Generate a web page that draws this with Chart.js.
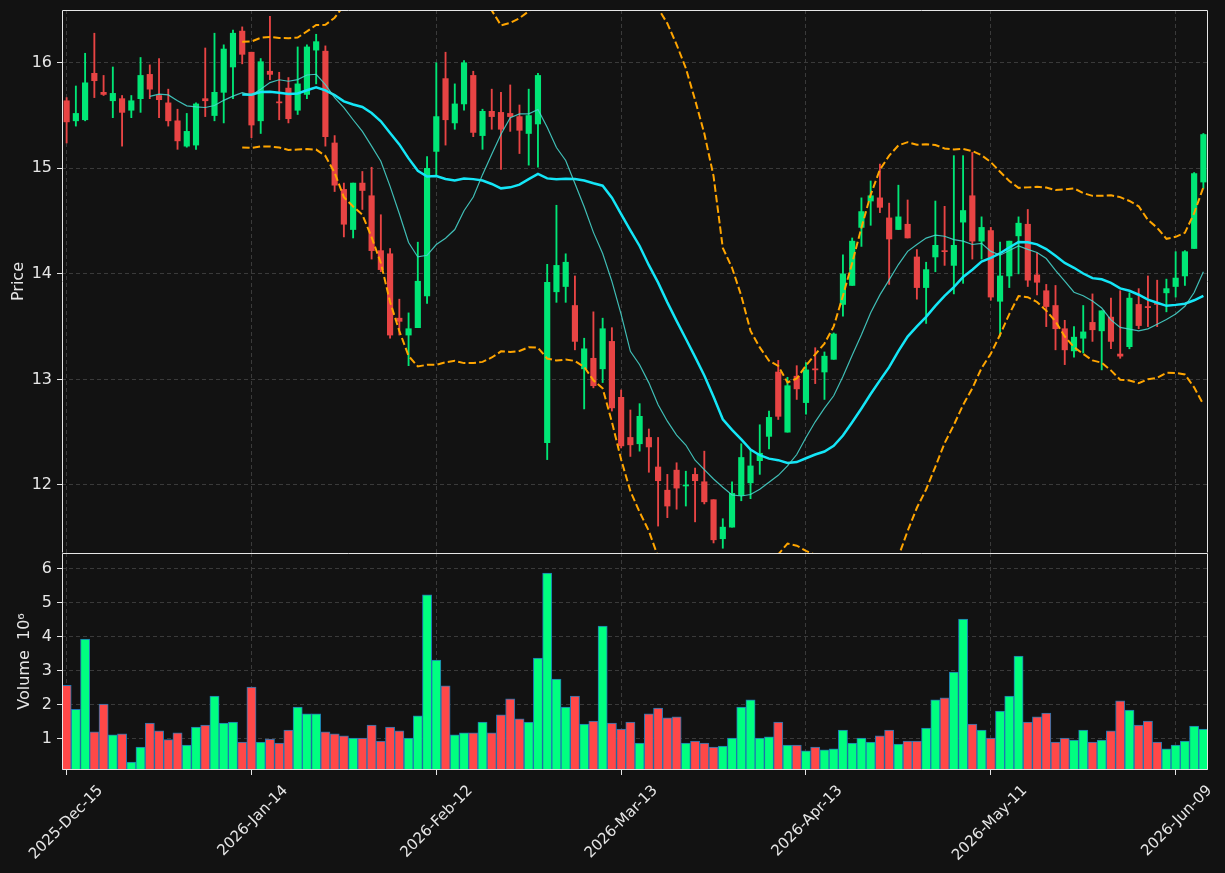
<!DOCTYPE html>
<html>
<head>
<meta charset="utf-8">
<script src="https://cdn.jsdelivr.net/npm/chart.js@4.4.1/dist/chart.umd.min.js"></script>
<style>
  html, body { margin: 0; padding: 0; background: #121212; }
  #wrap { position: relative; width: 1225px; height: 873px; overflow: hidden; background: #121212; }
  canvas { position: absolute; left: 0; }
  #priceChart { top: 0; }
  #volChart { top: 543px; }
</style>
</head>
<body>
<div id="wrap">
  <canvas id="priceChart" width="1225" height="553"></canvas>
  <canvas id="volChart" width="1225" height="330"></canvas>
</div>
<script>
// trading days (US calendar)
const dates = [
  '2025-Dec-15','2025-Dec-16','2025-Dec-17','2025-Dec-18','2025-Dec-19','2025-Dec-22','2025-Dec-23','2025-Dec-24','2025-Dec-26','2025-Dec-29','2025-Dec-30','2025-Dec-31',
  '2026-Jan-02','2026-Jan-05','2026-Jan-06','2026-Jan-07','2026-Jan-08','2026-Jan-09','2026-Jan-12','2026-Jan-13','2026-Jan-14','2026-Jan-15','2026-Jan-16','2026-Jan-20','2026-Jan-21','2026-Jan-22','2026-Jan-23','2026-Jan-26','2026-Jan-27','2026-Jan-28','2026-Jan-29','2026-Jan-30',
  '2026-Feb-02','2026-Feb-03','2026-Feb-04','2026-Feb-05','2026-Feb-06','2026-Feb-09','2026-Feb-10','2026-Feb-11','2026-Feb-12','2026-Feb-13','2026-Feb-17','2026-Feb-18','2026-Feb-19','2026-Feb-20','2026-Feb-23','2026-Feb-24','2026-Feb-25','2026-Feb-26','2026-Feb-27',
  '2026-Mar-02','2026-Mar-03','2026-Mar-04','2026-Mar-05','2026-Mar-06','2026-Mar-09','2026-Mar-10','2026-Mar-11','2026-Mar-12','2026-Mar-13','2026-Mar-16','2026-Mar-17','2026-Mar-18','2026-Mar-19','2026-Mar-20','2026-Mar-23','2026-Mar-24','2026-Mar-25','2026-Mar-26','2026-Mar-27','2026-Mar-30','2026-Mar-31',
  '2026-Apr-01','2026-Apr-02','2026-Apr-06','2026-Apr-07','2026-Apr-08','2026-Apr-09','2026-Apr-10','2026-Apr-13','2026-Apr-14','2026-Apr-15','2026-Apr-16','2026-Apr-17','2026-Apr-20','2026-Apr-21','2026-Apr-22','2026-Apr-23','2026-Apr-24','2026-Apr-27','2026-Apr-28','2026-Apr-29','2026-Apr-30',
  '2026-May-01','2026-May-04','2026-May-05','2026-May-06','2026-May-07','2026-May-08','2026-May-11','2026-May-12','2026-May-13','2026-May-14','2026-May-15','2026-May-18','2026-May-19','2026-May-20','2026-May-21','2026-May-22','2026-May-26','2026-May-27','2026-May-28','2026-May-29',
  '2026-Jun-01','2026-Jun-02','2026-Jun-03','2026-Jun-04','2026-Jun-05','2026-Jun-08','2026-Jun-09','2026-Jun-10','2026-Jun-11','2026-Jun-12'
];

const opens = [
  15.64,15.45,15.46,15.90,15.72,15.64,15.66,15.55,15.66,15.89,15.69,15.62,15.45,15.21,15.22,15.66,15.50,15.72,15.96,16.30,
  16.10,15.45,15.92,15.63,15.76,15.55,15.70,16.12,16.11,15.24,14.80,14.42,14.86,14.74,14.22,14.19,13.58,13.42,13.49,13.79,
  15.16,15.85,15.43,15.61,15.88,15.31,15.54,15.53,15.52,15.49,15.33,15.42,12.40,13.83,13.88,13.70,13.10,13.20,13.10,13.36,
  12.83,12.45,12.39,12.45,12.17,11.95,12.14,11.99,12.10,12.03,11.86,11.49,11.60,11.90,12.02,12.23,12.46,13.07,12.50,13.03,
  12.78,13.10,13.07,13.19,13.71,13.89,14.44,14.69,14.72,14.53,14.42,14.47,14.16,13.87,14.16,14.22,14.08,14.49,14.74,14.31,
  14.41,13.74,13.98,14.36,14.47,13.99,13.84,13.70,13.48,13.27,13.39,13.54,13.46,13.59,13.24,13.31,13.71,13.69,13.72,13.82,
  13.88,13.98,14.24,14.87
];
const highs = [
  15.67,15.78,16.09,16.28,15.88,15.96,15.69,15.69,16.05,15.98,16.04,15.75,15.56,15.52,15.62,16.14,16.28,16.17,16.31,16.34,
  16.10,16.04,16.44,15.91,15.86,16.15,16.17,16.27,16.16,15.31,14.86,14.86,14.97,15.01,14.56,14.24,13.76,13.63,14.30,15.11,
  16.00,16.10,15.80,16.02,15.92,15.56,15.75,15.72,15.79,15.60,15.75,15.90,14.09,14.65,14.19,13.98,13.39,13.64,13.58,13.49,
  12.90,12.71,12.77,12.53,12.45,12.10,12.21,12.13,12.16,12.32,11.86,11.68,12.03,12.39,12.33,12.57,12.70,13.18,13.02,13.13,
  13.16,13.30,13.26,13.44,14.18,14.34,14.72,14.88,15.04,14.67,14.84,14.70,14.23,14.11,14.69,14.64,15.12,15.12,15.15,14.54,
  14.44,14.30,14.31,14.54,14.61,14.20,13.90,13.89,13.56,13.50,13.70,13.81,13.65,13.77,13.84,13.82,13.86,13.98,13.94,13.95,
  14.21,14.22,14.96,15.33
];
const lows = [
  15.24,15.40,15.45,15.67,15.69,15.48,15.21,15.48,15.53,15.66,15.48,15.40,15.18,15.20,15.18,15.49,15.45,15.43,15.66,15.99,
  15.29,15.33,15.84,15.46,15.43,15.51,15.66,15.80,15.21,14.78,14.35,14.34,14.61,14.14,14.02,13.39,13.42,13.13,13.49,13.72,
  14.93,15.22,15.37,15.55,15.30,15.18,15.37,14.99,15.35,15.14,15.03,15.01,12.24,13.73,13.73,13.28,12.72,12.92,12.97,12.70,
  12.35,12.27,12.32,12.12,11.61,11.69,11.77,11.80,11.65,11.82,11.45,11.40,11.60,11.85,11.87,12.10,12.34,12.62,12.50,12.81,
  12.67,12.96,12.81,13.19,13.60,13.89,14.26,14.46,14.58,13.90,14.42,14.34,13.76,13.53,14.02,14.08,13.81,13.91,14.14,14.14,
  13.75,13.41,13.87,14.00,13.88,13.80,13.50,13.28,13.14,13.21,13.25,13.36,13.09,13.29,13.20,13.29,13.48,13.50,13.50,13.64,
  13.78,13.89,14.24,14.81
];
const closes = [
  15.44,15.52,15.81,15.83,15.70,15.71,15.53,15.64,15.88,15.75,15.65,15.45,15.26,15.35,15.61,15.64,15.72,16.13,16.28,16.08,
  15.41,16.01,15.89,15.62,15.47,15.80,16.15,16.20,15.30,14.84,14.47,14.86,14.79,14.22,14.04,13.42,13.55,13.48,13.93,15.00,
  15.49,15.46,15.61,16.00,15.34,15.54,15.49,15.37,15.49,15.36,15.50,15.88,13.92,14.08,14.11,13.36,13.29,12.94,13.48,12.73,
  12.37,12.38,12.65,12.36,12.04,11.80,11.97,12.00,12.04,11.84,11.48,11.60,11.92,12.26,12.18,12.30,12.64,12.65,12.94,12.91,
  13.09,13.09,13.22,13.43,14.00,14.31,14.59,14.74,14.63,14.33,14.54,14.34,13.87,14.04,14.27,14.21,14.27,14.60,14.31,14.44,
  13.78,13.98,14.31,14.48,13.94,13.92,13.69,13.48,13.28,13.40,13.45,13.47,13.65,13.36,13.22,13.77,13.51,13.68,13.71,13.86,
  13.96,14.21,14.95,15.32
];
// volume, millions
const volumes = [
  2.58,1.87,3.94,1.21,2.03,1.12,1.15,0.32,0.76,1.47,1.24,0.98,1.18,0.82,1.35,1.41,2.26,1.47,1.50,0.91,
  2.53,0.91,1.00,0.88,1.26,1.94,1.74,1.74,1.21,1.15,1.09,1.03,1.03,1.41,0.94,1.35,1.24,1.03,1.68,5.24,
  3.32,2.56,1.12,1.18,1.18,1.50,1.18,1.71,2.18,1.59,1.50,3.38,5.88,2.76,1.94,2.26,1.44,1.53,4.32,1.47,
  1.29,1.50,0.88,1.74,1.91,1.62,1.65,0.88,0.94,0.88,0.76,0.79,1.03,1.94,2.15,1.03,1.06,1.50,0.82,0.82,
  0.65,0.76,0.68,0.71,1.26,0.88,1.03,0.91,1.09,1.26,0.85,0.94,0.94,1.32,2.15,2.21,2.97,4.53,1.44,1.26,
  1.03,1.82,2.26,3.44,1.50,1.65,1.76,0.91,1.03,0.97,1.26,0.91,0.97,1.24,2.12,1.85,1.41,1.53,0.91,0.71,
  0.82,0.94,1.38,1.29
];

const priceTicks = [12, 13, 14, 15, 16];
const volumeTicks = [1, 2, 3, 4, 5, 6];
const tickEvery = 20;
const shortWin = 10;
const longWin = 20;

// indicators from the closes
function rollMean(arr, n) {
  return arr.map((_, i) => {
    if (i < n - 1) return null;
    let s = 0;
    for (let k = i - n + 1; k <= i; k++) s += arr[k];
    return s / n;
  });
}
function rollStd(arr, n) {
  const m = rollMean(arr, n);
  return arr.map((_, i) => {
    if (i < n - 1) return null;
    let s = 0;
    for (let k = i - n + 1; k <= i; k++) s += (arr[k] - m[i]) ** 2;
    return Math.sqrt(s / n);
  });
}
const ma10 = rollMean(closes, shortWin);
const ma20 = rollMean(closes, longWin);
const sd20 = rollStd(closes, longWin);
const upper = ma20.map((v, i) => v === null ? null : v + 2 * sd20[i]);
const lower = ma20.map((v, i) => v === null ? null : v - 2 * sd20[i]);

const isUp = closes.map((c, i) => c >= opens[i]);
const candleCol = isUp.map(u => u ? '#00e676' : '#e84444');
const volCol = isUp.map(u => u ? '#00ff80' : '#ff4848');

const FONT = 'DejaVu Sans';
const TXT = '#e6e6e6';
const GRID = '#3a3a3a';

Chart.defaults.font.family = FONT;
Chart.defaults.color = TXT;

function noPad(s) { s.paddingLeft = 0; s.paddingRight = 0; s.paddingTop = 0; s.paddingBottom = 0; }
function everyNth(s) { s.ticks = s.ticks.filter(t => t.value % tickEvery === 0); }

const frame = {
  id: 'frame',
  afterDatasetsDraw(chart, args, opts) {
    const {ctx, chartArea: a} = chart;
    ctx.save();
    ctx.strokeStyle = TXT;
    ctx.lineWidth = 1;
    ctx.beginPath();
    const L = Math.round(a.left) + 0.5, R = Math.round(a.right) - 0.5;
    const T = Math.round(a.top) + 0.5, B = Math.round(a.bottom) - 0.5;
    ctx.moveTo(L, B); ctx.lineTo(L, T); ctx.lineTo(R, T); ctx.lineTo(R, B);
    if (opts.bottom) ctx.lineTo(L, B);
    ctx.stroke();
    ctx.restore();
  }
};

const xBase = {
  type: 'category',
  offset: true,
  grid: { offset: false, color: GRID, tickColor: TXT, tickLength: 5, tickBorderDash: [] },
  border: { display: false, dash: [4, 3] },
  afterBuildTicks: everyNth
};

new Chart(document.getElementById('priceChart'), {
  type: 'bar',
  data: {
    labels: dates,
    datasets: [
      { type: 'line', data: ma10, borderColor: 'rgba(72,220,210,0.85)', borderWidth: 1.2, pointRadius: 0, tension: 0, order: 0 },
      { type: 'line', data: ma20, borderColor: '#14e6f7', borderWidth: 2.5, pointRadius: 0, tension: 0, order: 0 },
      { type: 'line', data: upper, borderColor: '#ffa500', borderWidth: 2, borderDash: [7.4, 3.2], pointRadius: 0, tension: 0, order: 0 },
      { type: 'line', data: lower, borderColor: '#ffa500', borderWidth: 2, borderDash: [7.4, 3.2], pointRadius: 0, tension: 0, order: 0 },
      { data: opens.map((o, i) => [o, closes[i]]), backgroundColor: candleCol, barThickness: 5.5, minBarLength: 1, grouped: false, order: 1 },
      { data: lows.map((l, i) => [l, highs[i]]), backgroundColor: candleCol, barThickness: 1.2, grouped: false, order: 2 }
    ]
  },
  options: {
    responsive: false,
    animation: false,
    devicePixelRatio: 1,
    layout: { padding: { top: 10, right: 17, left: 0, bottom: 0 } },
    plugins: { legend: { display: false }, tooltip: { enabled: false }, frame: { bottom: false } },
    scales: {
      x: Object.assign({}, xBase, {
        ticks: { display: false, autoSkip: false },
        grid: Object.assign({}, xBase.grid, { drawTicks: false }),
        afterFit: s => { s.height = 0; noPad(s); }
      }),
      y: {
        position: 'left',
        min: 11.355,
        max: 16.50,
        afterBuildTicks: s => { s.ticks = priceTicks.map(v => ({ value: v })); },
        ticks: { color: TXT, font: { size: 16 }, padding: 5 },
        grid: { color: GRID, tickColor: TXT, tickLength: 5, tickBorderDash: [] },
        border: { display: false, dash: [4, 3] },
        title: { display: true, text: 'Price', color: TXT, font: { size: 16 }, padding: { top: 9, bottom: 0 } },
        afterFit: s => { s.width = 62; noPad(s); }
      }
    }
  },
  plugins: [frame]
});

new Chart(document.getElementById('volChart'), {
  type: 'bar',
  data: {
    labels: dates,
    datasets: [
      { data: volumes, backgroundColor: volCol, borderColor: '#1f77b4', borderWidth: 1, borderSkipped: false,
        barPercentage: 1, categoryPercentage: 1 }
    ]
  },
  options: {
    responsive: false,
    animation: false,
    devicePixelRatio: 1,
    layout: { padding: { top: 10, right: 17, left: 0, bottom: 0 } },
    plugins: { legend: { display: false }, tooltip: { enabled: false }, frame: { bottom: true } },
    scales: {
      x: Object.assign({}, xBase, {
        ticks: { color: TXT, font: { size: 15 }, autoSkip: false, maxRotation: 45, minRotation: 45, labelOffset: 34, padding: 7 },
        afterFit: s => { s.height = 103; noPad(s); }
      }),
      y: {
        position: 'left',
        min: 0.088,
        max: 6.47,
        afterBuildTicks: s => { s.ticks = volumeTicks.map(v => ({ value: v })); },
        ticks: { color: TXT, font: { size: 16 }, padding: 5 },
        grid: { color: GRID, tickColor: TXT, tickLength: 5, tickBorderDash: [] },
        border: { display: false, dash: [4, 3] },
        title: { display: true, text: 'Volume  10\u2076', color: TXT, font: { size: 16 }, padding: { top: 15, bottom: 0 } },
        afterFit: s => { s.width = 62; noPad(s); }
      }
    }
  },
  plugins: [frame]
});
</script>
</body>
</html>
